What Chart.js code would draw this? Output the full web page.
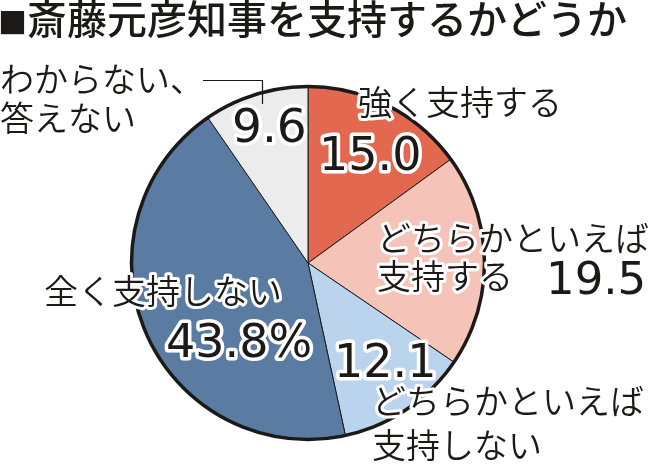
<!DOCTYPE html>
<html>
<head>
<meta charset="utf-8">
<script src="https://cdn.jsdelivr.net/npm/chart.js@4.4.1/dist/chart.umd.min.js"></script>
<style>
  html, body { margin: 0; padding: 0; background: #ffffff; }
  #wrap { position: relative; width: 657px; height: 467px; }
</style>
</head>
<body>
<div id="wrap"><canvas id="c" width="657" height="467"></canvas></div>
<script>
// ---- data ----
const titleMark = '■';
const titleText = '斎藤元彦知事を支持するかどうか';
const categories = ['強く支持する', 'どちらかといえば支持する', 'どちらかといえば支持しない', '全く支持しない', 'わからない、答えない'];
const values = [15.0, 19.5, 12.1, 43.8, 9.6];
const valueLabels = ['15.0', '19.5', '12.1', '43.8%', '9.6'];
const colors = ['#e2694f', '#f6c3b8', '#b9d4ec', '#5a7ca2', '#ececec'];

// ---- label layout (text placement only) ----
const nameLayout = [
  [{ t: '強く支持する', x: 358, y: 102 }],
  [{ t: 'どちらかといえば', x: 377, y: 238 }, { t: '支持する', x: 377, y: 276 }],
  [{ t: 'どちらかといえば', x: 372, y: 401 }, { t: '支持しない', x: 372, y: 445 }],
  [{ t: '全く支持しない', x: 44, y: 291 }],
  [{ t: 'わからない、', x: 0, y: 79 }, { t: '答えない', x: 0, y: 118 }]
];
const valueLayout = [
  { x: 319, y: 170, size: 46 },
  { x: 546, y: 294, size: 45 },
  { x: 334, y: 377, size: 46 },
  { x: 166, y: 357, size: 46 },
  { x: 232, y: 142, size: 47 }
];

const INK = '#1c1a18';
const JP = '"Noto Sans CJK JP", "Noto Sans", sans-serif';
const NUM = '"DejaVu Sans", "Liberation Sans", sans-serif';

function haloText(ctx, t, x, y, w) {
  ctx.lineJoin = 'round';
  ctx.strokeStyle = '#ffffff';
  ctx.lineWidth = w;
  ctx.strokeText(t, x, y);
  ctx.fillStyle = INK;
  ctx.fillText(t, x, y);
}

const decor = {
  id: 'decor',
  afterDatasetsDraw(chart) {
    const ctx = chart.ctx;
    const arc = chart.getDatasetMeta(0).data[0];
    ctx.save();
    ctx.beginPath();
    ctx.arc(arc.x, arc.y, arc.outerRadius, 0, Math.PI * 2);
    ctx.lineWidth = 3.5;
    ctx.strokeStyle = INK;
    ctx.stroke();
    ctx.restore();
  },
  afterDraw(chart) {
    const ctx = chart.ctx;
    ctx.save();
    // title
    ctx.textAlign = 'left';
    ctx.textBaseline = 'middle';
    ctx.fillStyle = INK;
    ctx.font = '400 29px ' + JP;
    ctx.fillText(titleMark, -2, 23);
    ctx.font = '500 40px ' + JP;
    ctx.fillText(titleText, 27, 19);

    // leader line for the last category
    ctx.beginPath();
    ctx.moveTo(203, 80.5);
    ctx.lineTo(262.5, 80.5);
    ctx.lineTo(262.5, 104);
    ctx.lineWidth = 1.2;
    ctx.strokeStyle = INK;
    ctx.stroke();

    // category names
    ctx.font = '350 34px ' + JP;
    ctx.textBaseline = 'middle';
    nameLayout.forEach(lines => lines.forEach(l => haloText(ctx, l.t, l.x, l.y, 6)));

    // values
    ctx.textBaseline = 'alphabetic';
    valueLabels.forEach((v, i) => {
      const p = valueLayout[i];
      ctx.font = '400 ' + p.size + 'px ' + NUM;
      haloText(ctx, v, p.x, p.y, 7);
    });
    ctx.restore();
  }
};

new Chart(document.getElementById('c'), {
  type: 'pie',
  data: {
    labels: categories,
    datasets: [{
      data: values,
      backgroundColor: colors,
      borderColor: INK,
      borderWidth: 1
    }]
  },
  options: {
    responsive: false,
    animation: false,
    layout: { padding: { left: 131, right: 172, top: 86, bottom: 27 } },
    plugins: { legend: { display: false }, tooltip: { enabled: false } }
  },
  plugins: [decor]
});
</script>
</body>
</html>
